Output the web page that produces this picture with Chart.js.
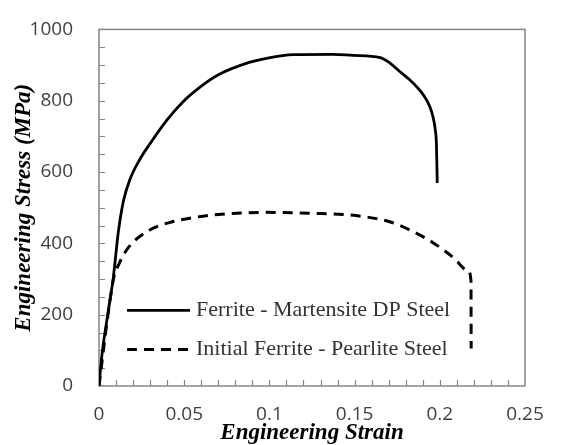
<!DOCTYPE html>
<html>
<head>
<meta charset="utf-8">
<script src="https://cdn.jsdelivr.net/npm/chart.js@4"></script>
<style>
  body { margin: 0; background: #fff; }
  #wrap { width: 565px; height: 445px; }
</style>
</head>
<body>
<div id="wrap"><canvas id="grafico"></canvas></div>
<script>
// curvas
const dpStrain = [0, 0.0016, 0.0055, 0.0084, 0.0113, 0.0143, 0.0182, 0.024, 0.030, 0.0397, 0.0495, 0.0593, 0.069, 0.0886, 0.0984, 0.114, 0.1375, 0.149, 0.165, 0.170, 0.176, 0.182, 0.187, 0.191, 0.194, 0.196, 0.1973, 0.198, 0.1983, 0.1985];
const dpStress = [0, 82, 212, 304, 430, 518, 580, 636, 680, 745, 798, 838, 870, 908, 919, 929, 930, 927, 921, 908, 884, 860, 836, 812, 785, 755, 720, 680, 620, 569];

const fpStrain = [0, 0.005, 0.0085, 0.012, 0.0172, 0.030, 0.0427, 0.0563, 0.07, 0.098, 0.128, 0.143, 0.157, 0.171, 0.1835, 0.196, 0.208, 0.2167, 0.2183, 0.2184];
const fpStress = [0, 190, 300, 345, 388, 438, 460, 473, 481, 487, 484, 481, 474, 460, 435, 402, 360, 323, 295, 105];

const legendas = ['Ferrite - Martensite DP Steel', 'Initial Ferrite - Pearlite Steel'];
const xTicks = [0, 0.05, 0.1, 0.15, 0.2, 0.25];
const yTicks = [0, 200, 400, 600, 800, 1000];

function pares(xs, ys) {
    return xs.map((x, i) => ({ x: x, y: ys[i] }));
}

const corEixo = '#858585';

// caixa, marcas menores para dentro e legenda dentro da area
const moldura = {
    id: 'moldura',
    beforeDatasetsDraw(chart) {
        const { ctx, chartArea: a, scales } = chart;
        ctx.save();
        ctx.strokeStyle = corEixo;
        ctx.lineWidth = 1.5;
        ctx.strokeRect(a.left, a.top, a.right - a.left, a.bottom - a.top);
        ctx.lineWidth = 1.2;
        ctx.beginPath();
        for (let v = 0.01; v < 0.25; v += 0.01) {
            const px = Math.round(scales.x.getPixelForValue(v)) + 0.5;
            ctx.moveTo(px, a.bottom);
            ctx.lineTo(px, a.bottom - 6);
        }
        for (let v = 50; v < 1000; v += 50) {
            const py = Math.round(scales.y.getPixelForValue(v)) + 0.5;
            ctx.moveTo(a.left, py);
            ctx.lineTo(a.left + 6, py);
        }
        ctx.stroke();
        ctx.restore();
    },
    afterDraw(chart) {
        const { ctx, chartArea: a } = chart;
        ctx.save();
        ctx.font = '22px "Liberation Serif"';
        ctx.fillStyle = '#333';
        ctx.textBaseline = 'middle';
        chart.data.datasets.forEach((ds, i) => {
            const y = a.top + 281 + i * 39;
            const x0 = a.left + 28;
            ctx.strokeStyle = ds.borderColor;
            ctx.lineWidth = ds.borderWidth;
            ctx.setLineDash(ds.borderDash || []);
            ctx.beginPath();
            ctx.moveTo(x0, y);
            ctx.lineTo(x0 + 63, y);
            ctx.stroke();
            ctx.setLineDash([]);
            ctx.fillText(ds.label, x0 + 69, y);
        });
        ctx.restore();
    }
};

new Chart(document.getElementById('grafico'), {
    type: 'line',
    data: {
        datasets: [{
            label: legendas[0],
            data: pares(dpStrain, dpStress),
            borderColor: '#000',
            borderWidth: 2.8,
            pointRadius: 0,
            cubicInterpolationMode: 'monotone'
        }, {
            label: legendas[1],
            data: pares(fpStrain, fpStress),
            borderColor: '#000',
            borderWidth: 3,
            borderDash: [10, 7],
            pointRadius: 0,
            cubicInterpolationMode: 'monotone'
        }]
    },
    options: {
        responsive: true,
        maintainAspectRatio: false,
        animation: false,
        layout: { padding: { top: 27, right: 40, left: 10, bottom: 0 } },
        plugins: { legend: { display: false }, tooltip: { enabled: false } },
        scales: {
            x: {
                type: 'linear',
                min: 0,
                max: 0.25,
                afterBuildTicks: s => { s.ticks = xTicks.map(v => ({ value: v })); },
                afterFit: s => { s.height = 59; },
                ticks: {
                    callback: v => String(+v.toFixed(2)),
                    font: { family: 'Open Sans', size: 19 },
                    color: '#404040',
                    padding: 9,
                    maxRotation: 0
                },
                grid: { display: false },
                border: { display: false },
                title: {
                    display: true,
                    text: 'Engineering Strain',
                    font: { family: 'Liberation Serif', size: 23, weight: 'bold', style: 'italic' },
                    color: '#000',
                    padding: { top: -4, bottom: -2 }
                }
            },
            y: {
                type: 'linear',
                min: 0,
                max: 1000,
                afterBuildTicks: s => { s.ticks = yTicks.map(v => ({ value: v })); },
                afterFit: s => { s.width = 89; },
                ticks: {
                    callback: v => String(v),
                    font: { family: 'Open Sans', size: 19 },
                    color: '#404040',
                    padding: 18
                },
                grid: { display: false },
                border: { display: false },
                title: {
                    display: true,
                    text: 'Engineering Stress (MPa)',
                    font: { family: 'Liberation Serif', size: 23, weight: 'bold', style: 'italic' },
                    color: '#000',
                    padding: { top: 0, bottom: 0 }
                }
            }
        }
    },
    plugins: [moldura]
});
</script>
</body>
</html>
